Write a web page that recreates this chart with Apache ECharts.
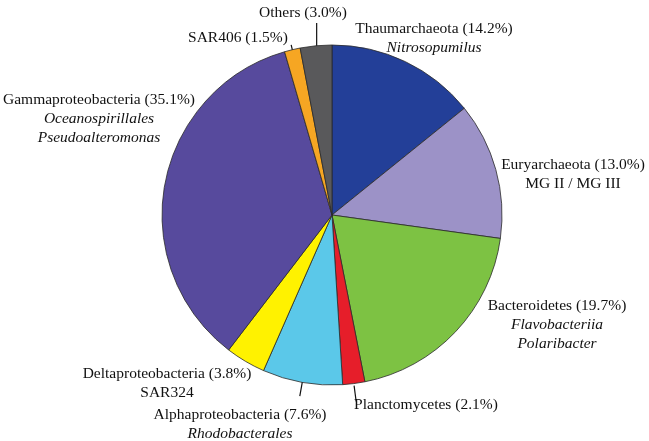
<!DOCTYPE html>
<html>
<head>
<meta charset="utf-8">
<script src="https://cdn.jsdelivr.net/npm/echarts@6/dist/echarts.min.js"></script>
<style>
  html, body { margin: 0; padding: 0; background: #fff; }
  #main { width: 649px; height: 441px; }
</style>
</head>
<body>
<div id="main"></div>
<script>
// data, clockwise from 12 o'clock
var names = ['Thaumarchaeota', 'Euryarchaeota', 'Bacteroidetes', 'Planctomycetes', 'Alphaproteobacteria',
    'Deltaproteobacteria', 'Gammaproteobacteria', 'SAR406', 'Others'];
var values = [14.2, 13.0, 19.7, 2.1, 7.6, 3.8, 35.1, 1.5, 3.0];
var subLines = [['Nitrosopumilus'], ['MG II / MG III'], ['Flavobacteriia', 'Polaribacter'], [], ['Rhodobacterales'],
    ['SAR324'], ['Oceanospirillales', 'Pseudoalteromonas'], [], []];
var subItalic = [true, false, true, false, true, false, true, false, false];

// styles
var colors = ['#233f98', '#9c92c7', '#7dc243', '#e61e2a', '#5bc8e9', '#fff200', '#574a9d', '#f6a623', '#59595b'];
var cx = 332, cy = 215, R = 170;
// label block: center x, top y
var labelAt = [[434, 19], [573, 155], [557, 296], [426, 395], [240, 405], [167, 364], [99, 90], [238, 28], [303, 3]];
// leader lines: [r start, r end] (null = none)
var leader = [null, null, null, [172, 188], [163, 184], null, null, [165, 175], [163, 0]];

var total = values.reduce(function(a, b) { return a + b; }, 0);

function midAngle(i) {
    var before = 0;
    for (var k = 0; k < i; k++) before += values[k];
    return (before + values[i] / 2) / total * Math.PI * 2;
}

var seriesData = [];
for (var i = 0; i < names.length; i++) {
    seriesData.push({
        name: names[i],
        value: values[i],
        itemStyle: { color: colors[i] },
        labelLine: { show: leader[i] != null }
    });
}

var myChart = echarts.init(document.getElementById('main'));

var option = {
    animation: false,
    series: [{
        type: 'pie',
        center: [cx, cy],
        radius: R,
        startAngle: 90,
        clockwise: true,
        avoidLabelOverlap: false,
        data: seriesData,
        itemStyle: { borderColor: '#2a2a2a', borderWidth: 0.8 },
        label: {
            show: true,
            position: 'outside',
            overflow: 'none',
            color: '#111',
            fontFamily: 'Liberation Serif',
            fontSize: 15.5,
            lineHeight: 19,
            formatter: function(p) {
                var s = '{n|' + p.name + ' (' + p.value.toFixed(1) + '%)}';
                var subs = subLines[p.dataIndex];
                for (var k = 0; k < subs.length; k++) {
                    s += '\n{' + (subItalic[p.dataIndex] ? 'i' : 'n') + '|' + subs[k] + '}';
                }
                return s;
            },
            rich: {
                n: { fontFamily: 'Liberation Serif', fontSize: 15.5, lineHeight: 19, color: '#111' },
                i: { fontFamily: 'Liberation Serif', fontSize: 15.5, lineHeight: 19, color: '#111', fontStyle: 'italic' }
            }
        },
        labelLine: {
            lineStyle: { color: '#111', width: 1.2 }
        },
        labelLayout: function(p) {
            var i = p.dataIndex;
            var out = {
                x: labelAt[i][0],
                y: labelAt[i][1],
                align: 'center',
                verticalAlign: 'top'
            };
            if (leader[i]) {
                var a = midAngle(i);
                var x0 = cx + leader[i][0] * Math.sin(a);
                var y0 = cy - leader[i][0] * Math.cos(a);
                var x1, y1;
                if (leader[i][1] === 0) { // straight up to the label
                    x1 = x0; y1 = labelAt[i][1] + 20;
                } else {
                    x1 = cx + leader[i][1] * Math.sin(a);
                    y1 = cy - leader[i][1] * Math.cos(a);
                }
                out.labelLinePoints = [[x0, y0], [(x0 + x1) / 2, (y0 + y1) / 2], [x1, y1]];
            }
            return out;
        }
    }]
};

myChart.setOption(option);
</script>
</body>
</html>
